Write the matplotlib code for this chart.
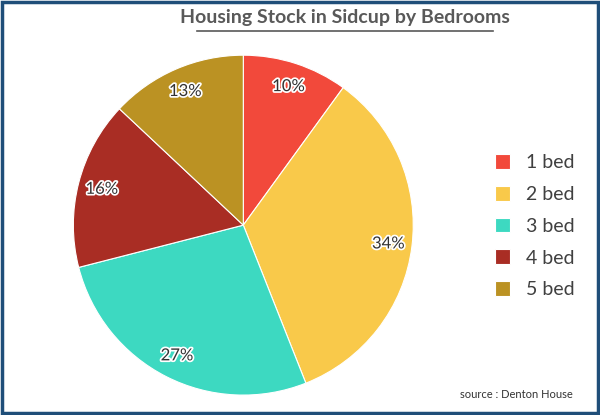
import matplotlib
matplotlib.use("Agg")
import matplotlib.pyplot as plt
import matplotlib.patheffects as pe
from matplotlib.patches import Rectangle

labels = ["1 bed", "2 bed", "3 bed", "4 bed", "5 bed"]
values = [10, 34, 27, 16, 13]
colors = ["#f2493b", "#f9c94a", "#3dd9c1", "#a92d24", "#bb9223"]

fig = plt.figure(figsize=(6, 4.15), dpi=100)
fig.patches.append(Rectangle((0.003, 0.004), 0.994, 0.992, transform=fig.transFigure,
                             fill=False, edgecolor="#1f4e79", linewidth=2.5))
ax = fig.add_axes([0.122, 0.048, 0.567, 0.819])
wedges, texts, autotexts = ax.pie(values, colors=colors, startangle=90, counterclock=False,
                                  autopct="%d%%", pctdistance=0.86,
                                  wedgeprops=dict(edgecolor="white", linewidth=0.8),
                                  textprops=dict(fontsize=12, color="#333333", family="Lato"))
for t in autotexts:
    t.set_path_effects([pe.withStroke(linewidth=2.5, foreground="white")])
ax.set_xlim(-1.0, 1.0)
ax.set_ylim(-1.0, 1.0)
ax.set_aspect("equal")

fig.text(0.575, 0.958, "Housing Stock in Sidcup by Bedrooms", ha="center", va="center",
         fontsize=14, fontweight="bold", color="#595959", family="Lato")
fig.add_artist(plt.Line2D([0.328, 0.822], [0.925, 0.925], color="#595959", linewidth=1.2))

leg = fig.legend(wedges, labels, loc="center left", bbox_to_anchor=(0.795, 0.455),
                 frameon=False, handlelength=0.8, handleheight=0.8,
                 labelspacing=0.75, prop=dict(family="Lato", size=14))
for t in leg.get_texts():
    t.set_color("#404040")

fig.text(0.955, 0.05, "source : Denton House", ha="right", va="center", fontsize=8,
         color="#333333", family="Lato")
fig.savefig("out.png", dpi=100)
